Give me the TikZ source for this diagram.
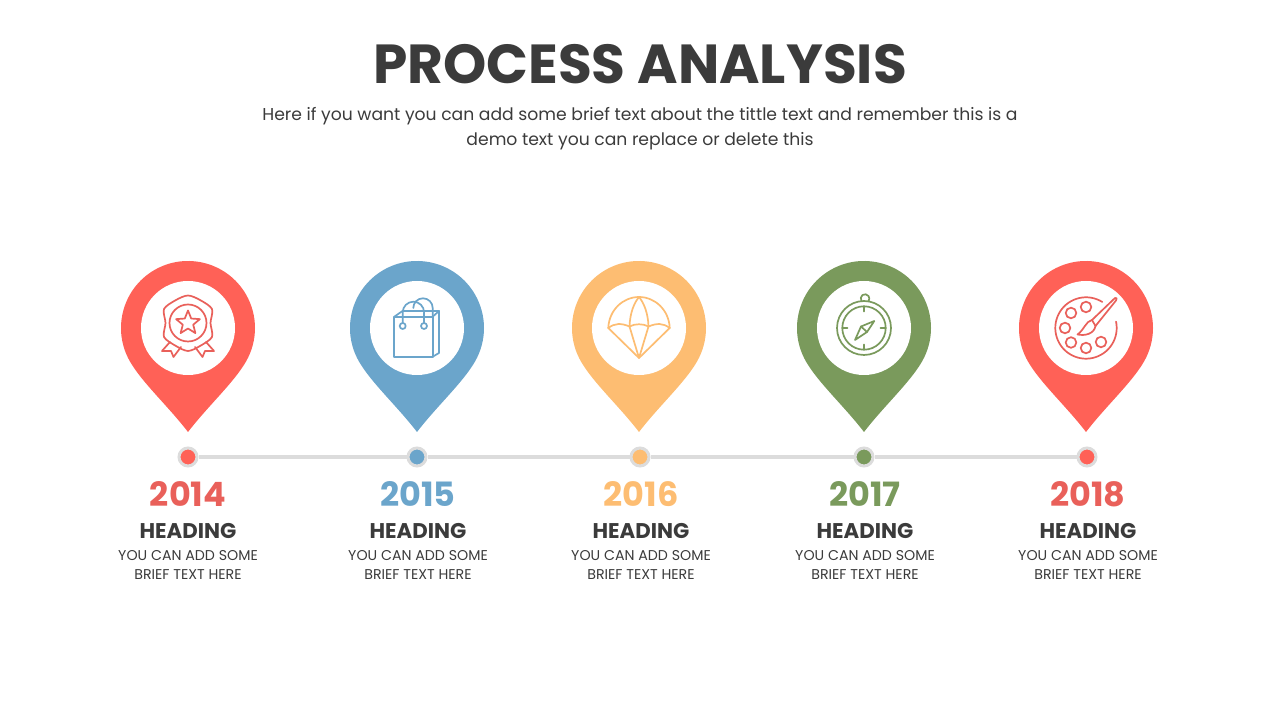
\documentclass[tikz,border=0pt]{standalone}
\usepackage{fontspec}
\setmainfont{Poppins}
\usepackage{tikz}
\definecolor{pinred}{HTML}{FF6157}
\definecolor{pinblue}{HTML}{6BA5CB}
\definecolor{pinorange}{HTML}{FDBD72}
\definecolor{pingreen}{HTML}{7A9A5C}
\definecolor{yearred}{HTML}{E9605A}
\definecolor{inkgrey}{HTML}{3B3B3B}
\definecolor{railgrey}{HTML}{DCDCDC}
\def\pinshape{(0,-104) .. controls (-20,-78) and (-46,-54.5) .. (-150:67) arc[start angle=-150,end angle=-390,radius=67] .. controls (46,-54.5) and (20,-78) .. (0,-104) -- cycle}
\def\pinhole{(0,0) circle (47)}
\tikzset{
    icon/.style={line width=1.7pt,line join=round,line cap=round},
    titletext/.style={font=\fontsize{55}{60}\selectfont\bfseries,text=inkgrey},
    subtext/.style={font=\fontsize{17.2}{25}\selectfont,text=inkgrey,align=center},
    yeartext/.style={font=\fontsize{33.5}{36}\selectfont\bfseries},
    headtext/.style={font=\fontsize{21.3}{24}\selectfont\bfseries,text=inkgrey},
    smalltext/.style={font=\fontsize{14.2}{19}\selectfont,text=inkgrey,align=center},
    railline/.style={draw=railgrey,line width=3.2pt},
    raildot/.style={circle,draw=railgrey,line width=3pt,minimum size=18pt,inner sep=0pt}
}
\begin{document}
\begin{tikzpicture}[x=1pt,y=1pt]
    \useasboundingbox (0,0) rectangle (1280,720);
    \node[titletext] (title) at (640,656) {PROCESS ANALYSIS};
    \node[subtext] (subtitle) at (640,591) {Here if you want you can add some brief text about the tittle text and remember this is a\\demo text you can replace or delete this};
    % pins and the text under them
    \foreach \px/\dx/\tx/\yr/\col/\ycol in {188/188/188/2014/pinred/yearred,417/417/418/2015/pinblue/pinblue,639/640/641/2016/pinorange/pinorange,864/864/865/2017/pingreen/pingreen,1086/1087/1088/2018/pinred/yearred} {
        \begin{scope}[shift={(\px,392)}]
            \fill[\col] \pinshape;
            \fill[white] \pinhole;
        \end{scope}
        \node[raildot,fill=\col] (dot\yr) at (\dx,263) {};
        \node[yeartext,text=\ycol] (year\yr) at (\tx,226) {\yr};
        \node[headtext] (head\yr) at (\tx,189) {HEADING};
        \node[smalltext] (note\yr) at (\tx,155.5) {YOU CAN ADD SOME\\BRIEF TEXT HERE};
    }
    \draw[railline] (dot2014) -- (dot2015);
    \draw[railline] (dot2015) -- (dot2016);
    \draw[railline] (dot2016) -- (dot2017);
    \draw[railline] (dot2017) -- (dot2018);
    % badge
    \begin{scope}[shift={(188,392)},icon,draw=yearred]
        \draw plot[smooth cycle] coordinates {(0,32.5) (12,28) (24,19) (22.5,5) (24,-9) (12,-18) (0,-23) (-12,-18) (-24,-9) (-22.5,5) (-24,19) (-12,28)};
        \draw (0,5) circle (18.5);
        \draw[yshift=5pt] plot[samples at={0,...,9},variable=\k] ({90+36*\k}:{mod(\k,2)==0?12.5:5.5}) -- cycle;
        \draw (-18,-14) -- (-26,-23) -- (-17,-23) -- (-14.5,-29) -- (-7,-19);
        \draw (18,-14) -- (26,-23) -- (17,-23) -- (14.5,-29) -- (7,-19);
    \end{scope}
    % bag
    \begin{scope}[shift={(417,392)},icon,draw=pinblue]
        \draw (-22.7,11.3) rectangle (15.7,-28.7);
        \draw (15.7,-28.7) -- (22,-25) -- (22,17) -- (15.7,11.3);
        \draw (-22.7,11.3) -- (-14.5,17) -- (22,17);
        \draw (-14.3,5) -- (-14.3,15.6) arc[start angle=180,end angle=0,radius=10.7] -- (7,5);
        \draw (-3.7,20) arc[start angle=180,end angle=0,radius=9.7] -- (15.7,11.3);
        \draw (-14.3,2) circle (3);
        \draw (7,2) circle (3);
    \end{scope}
    % parachute
    \begin{scope}[shift={(639,392)},icon,draw=pinorange]
        \draw (-30.7,0) .. controls (-30,18) and (-16,31) .. (0,31) .. controls (16,31) and (30,18) .. (30.7,0);
        \draw (-30.7,0) .. controls (-24,5) and (-18,5) .. (-9.5,1.5) .. controls (-4,4.5) and (4,4.5) .. (9.5,1.5) .. controls (18,5) and (24,5) .. (30.7,0);
        \draw (-30.7,0) -- (0,-30) -- (30.7,0);
        \draw (-9.5,1.5) -- (0,-30) -- (9.5,1.5);
        \draw (-9.5,1.5) .. controls (-9,15) and (-5,25) .. (0,31) .. controls (5,25) and (9,15) .. (9.5,1.5);
    \end{scope}
    % compass
    \begin{scope}[shift={(864,392)},icon,draw=pingreen]
        \draw (0,0) circle (27);
        \draw (0,0) circle (21.7);
        \draw (-2.5,27) arc[start angle=215,end angle=-35,radius=4.3];
        \foreach \a in {0,90,180,270} {
            \draw (\a:21.7) -- (\a:16.5);
        }
        \draw (10.3,7) -- (-3,1.5) -- (-9,-12) -- (3,-4) -- cycle;
        \draw (-3,1.5) -- (3,-4);
    \end{scope}
    % palette
    \begin{scope}[shift={(1086,392)},icon,draw=yearred]
        \draw (58:30.7) arc[start angle=58,end angle=372,radius=30.7];
        \foreach \hx/\hy in {-15/15,0/21,-21/0,-15/-14.5,0/-20,15/-14} {
            \draw (\hx,\hy) circle (5.3);
        }
        \draw (6,8) -- (29,30) .. controls (31,31) and (31,29) .. (30,27.5) -- (9.5,2);
        \draw (6,8) .. controls (0,7) and (-2,-2) .. (-8.5,-6.5) .. controls (-1,-8) and (8,-6) .. (9.5,2);
        \draw (6,8) -- (9.5,2);
    \end{scope}
\end{tikzpicture}
\end{document}
